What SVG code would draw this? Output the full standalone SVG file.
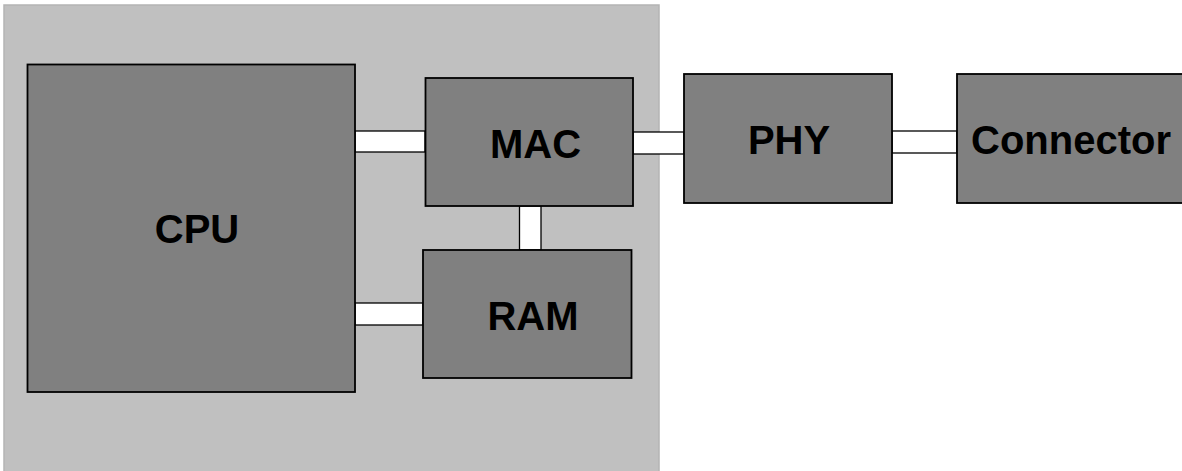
<svg xmlns="http://www.w3.org/2000/svg" width="1182" height="471" viewBox="0 0 1182 471">
<style>
.box{fill:#808080;stroke:#000;stroke-width:1.8}
.bar{fill:#fff;stroke:#000;stroke-width:1.3}
.lbl{font-family:"Liberation Sans",Arial,sans-serif;font-weight:bold;font-size:40px;fill:#000;text-anchor:middle}
</style>
<rect width="1182" height="471" fill="#fff"/>
<g id="board">
<rect x="4" y="5" width="655" height="470" fill="#c0c0c0" stroke="#b4b4b4" stroke-width="1.5"/>
</g>
<g id="connectors">
<rect class="bar" x="355" y="131" width="70" height="21"/>
<rect class="bar" x="355" y="303" width="68" height="22"/>
<rect class="bar" x="519.5" y="206" width="21.5" height="44"/>
<rect class="bar" x="633" y="132" width="51" height="22"/>
<rect class="bar" x="892" y="131" width="65" height="22"/>
</g>
<g id="cpu">
<rect class="box" x="27.5" y="64.5" width="327.5" height="327.5"/>
<text class="lbl" x="197" y="243">CPU</text>
</g>
<g id="mac">
<rect class="box" x="425.5" y="78" width="207.5" height="128"/>
<text class="lbl" x="535.5" y="158">MAC</text>
</g>
<g id="ram">
<rect class="box" x="423" y="250" width="208.5" height="128"/>
<text class="lbl" x="533" y="330">RAM</text>
</g>
<g id="phy">
<rect class="box" x="684" y="74" width="208" height="129"/>
<text class="lbl" x="789" y="154">PHY</text>
</g>
<g id="connector">
<rect class="box" x="957" y="74" width="240" height="129"/>
<text class="lbl" x="1071" y="154">Connector</text>
</g>
</svg>
